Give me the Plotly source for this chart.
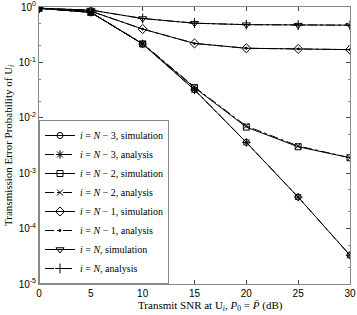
import plotly.graph_objects as go

snr = [0, 5, 10, 15, 20, 25, 30]
sim_n3 = [0.95, 0.80, 0.215, 0.032, 0.0036, 3.7e-4, 3.3e-5]
ana_n3 = [0.95, 0.80, 0.215, 0.032, 0.0036, 3.7e-4, 3.3e-5]
sim_n2 = [0.95, 0.80, 0.215, 0.035, 0.0068, 0.0030, 0.0019]
ana_n2 = [0.95, 0.80, 0.22, 0.036, 0.0071, 0.0031, 0.0019]
sim_n1 = [0.95, 0.84, 0.40, 0.22, 0.18, 0.175, 0.17]
ana_n1 = [0.95, 0.84, 0.40, 0.22, 0.18, 0.175, 0.17]
sim_n = [0.95, 0.88, 0.62, 0.51, 0.48, 0.47, 0.47]
ana_n = [0.95, 0.88, 0.62, 0.51, 0.48, 0.47, 0.47]

x_ticks = [0, 5, 10, 15, 20, 25, 30]
y_tickvals = [1e-5, 1e-4, 1e-3, 1e-2, 1e-1, 1]
y_ticktext = ["10<sup>-5</sup>", "10<sup>-4</sup>", "10<sup>-3</sup>",
              "10<sup>-2</sup>", "10<sup>-1</sup>", "10<sup>0</sup>"]

series = [
    ("<i>i</i> = <i>N</i> − 3, simulation", sim_n3, "solid", "circle-open", 6),
    ("<i>i</i> = <i>N</i> − 3, analysis", ana_n3, "dashdot", "asterisk-open", 7),
    ("<i>i</i> = <i>N</i> − 2, simulation", sim_n2, "solid", "square-open", 6),
    ("<i>i</i> = <i>N</i> − 2, analysis", ana_n2, "dashdot", "x-thin-open", 6),
    ("<i>i</i> = <i>N</i> − 1, simulation", sim_n1, "solid", "diamond-open", 7),
    ("<i>i</i> = <i>N</i> − 1, analysis", ana_n1, "dashdot", "circle", 2),
    ("<i>i</i> = <i>N</i>, simulation", sim_n, "solid", "triangle-down-open", 7),
    ("<i>i</i> = <i>N</i>, analysis", ana_n, "dashdot", "cross-thin-open", 7),
]

fig = go.Figure()
for name, ys, dash, sym, sz in series:
    fig.add_trace(go.Scatter(
        x=snr, y=ys, name=name, mode="lines+markers",
        line=dict(color="black", width=1, dash=dash),
        marker=dict(symbol=sym, size=sz, color="black", line=dict(color="black", width=1)),
    ))

serif = "Liberation Serif"
fig.update_layout(
    width=357, height=315,
    margin=dict(l=39, r=7, t=7, b=31, autoexpand=False),
    plot_bgcolor="white", paper_bgcolor="white",
    font=dict(family=serif, size=10, color="black"),
    showlegend=True,
    legend=dict(x=0, y=0, xanchor="left", yanchor="bottom",
                bgcolor="white", bordercolor="#888888", borderwidth=1,
                font=dict(family=serif, size=10), tracegroupgap=0,
                itemwidth=30),
    annotations=[
        dict(text="Transmit SNR at U<sub><i>i</i></sub>, <i>P</i><sub>0</sub> = <i>P̄</i> (dB)",
             xref="paper", yref="paper", x=0.55, y=-0.078, xanchor="center", yanchor="middle",
             showarrow=False, font=dict(family=serif, size=11)),
        dict(text="Transmission Error Probability of U<sub><i>i</i></sub>",
             xref="paper", yref="paper", x=-0.098, y=0.5, xanchor="center", yanchor="middle",
             textangle=-90, showarrow=False, font=dict(family=serif, size=11)),
    ],
)
fig.update_xaxes(
    range=[0, 30], tickvals=x_ticks, automargin=False,
    ticks="inside", ticklen=4, mirror="ticks", showline=True, linecolor="#888888",
    linewidth=1, showgrid=False, zeroline=False,
    tickfont=dict(family="Liberation Sans", size=10, color="black"),
)
fig.update_yaxes(
    type="log", range=[-5, 0], tickvals=y_tickvals, ticktext=y_ticktext, automargin=False,
    ticks="inside", ticklen=4, mirror="ticks", showline=True, linecolor="#888888",
    linewidth=1, showgrid=False, zeroline=False,
    minor=dict(ticks="inside", ticklen=2, tickcolor="#888888"),
    tickfont=dict(family="Liberation Sans", size=10, color="black"),
)
fig.write_html("out.html", post_script="document.body.style.margin='0';",
               config={"displayModeBar": False})
